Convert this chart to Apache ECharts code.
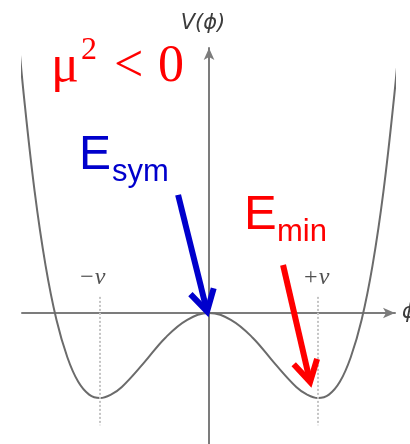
<!DOCTYPE html>
<html>
<head>
<meta charset="utf-8">
<script src="https://cdn.jsdelivr.net/npm/echarts@6/dist/echarts.min.js"></script>
<style>
  html, body { margin: 0; padding: 0; background: #ffffff; }
  #chart { width: 410px; height: 444px; }
</style>
</head>
<body>
<div id="chart"></div>
<script>
// Field values phi (in units of the vacuum value v) and the potential V(phi)
const phiValues = [-1.75, -1.7, -1.6, -1.5, -1.4, -1.3, -1.2, -1.1, -1.0, -0.9, -0.8, -0.6, -0.4, -0.2, 0,
                   0.2, 0.4, 0.6, 0.8, 0.9, 1.0, 1.1, 1.2, 1.3, 1.4, 1.5, 1.6, 1.7, 1.75];
const potentialValues = [3.27, 2.57, 1.43, 0.56, -0.08, -0.52, -0.81, -0.96, -1.0, -0.96, -0.87, -0.59, -0.29, -0.08, 0,
                         -0.08, -0.29, -0.59, -0.87, -0.96, -1.0, -0.96, -0.81, -0.52, -0.08, 0.56, 1.43, 2.57, 3.27];

// Vacuum expectation values marked on the axis
const vacuumPositions = [-1, 1];
const vacuumLabels = ['\u2212v', '+v'];

// Arrow annotations: [tail, tip] in (phi, V) units
const symArrow = [[-0.284, 1.39], [-0.018, 0.02]];
const minArrow = [[0.679, 0.565], [0.927, -0.81]];

const curve = phiValues.map((p, i) => [p, potentialValues[i]]);

const chart = echarts.init(document.getElementById('chart'), null, { renderer: 'canvas' });

const axisGray = '#7c7c7c';

chart.setOption({
  animation: false,
  backgroundColor: '#ffffff',
  grid: { left: 22, right: 15, top: 48, bottom: 0, containLabel: false },
  xAxis: {
    type: 'value',
    min: -1.716, max: 1.706,
    axisLine: { show: true, onZero: true, symbol: ['none', 'arrow'], symbolSize: [8, 12],
                lineStyle: { color: axisGray, width: 2 } },
    axisTick: { show: false }, axisLabel: { show: false }, splitLine: { show: false }
  },
  yAxis: {
    type: 'value',
    min: -1.541, max: 3.118,
    axisLine: { show: true, onZero: true, symbol: ['none', 'arrow'], symbolSize: [8, 12],
                lineStyle: { color: axisGray, width: 2 } },
    axisTick: { show: false }, axisLabel: { show: false }, splitLine: { show: false }
  },
  series: [{
    type: 'line',
    data: curve,
    smooth: 0.4,
    symbol: 'none',
    clip: false,
    lineStyle: { color: '#6b6b6b', width: 2 },
    markLine: {
      silent: true,
      symbol: ['none', 'none'],
      label: { show: false },
      lineStyle: { color: '#c4c4c4', width: 2, type: [2, 2] },
      data: vacuumPositions.map(v => [{ coord: [v, 0.19] }, { coord: [v, -1.32] }])
    },
    z: 3
  }]
});

function px(pt) { return chart.convertToPixel({ gridIndex: 0 }, pt); }

function arrowShapes(pair, color) {
  const a = px(pair[0]);
  const b = px(pair[1]);
  const dx = b[0] - a[0], dy = b[1] - a[1];
  const len = Math.hypot(dx, dy);
  const ux = dx / len, uy = dy / len;
  const wing = 24, ang = 30 * Math.PI / 180;
  const rot = (x, y, t) => [x * Math.cos(t) - y * Math.sin(t), x * Math.sin(t) + y * Math.cos(t)];
  const w1 = rot(-ux, -uy, ang), w2 = rot(-ux, -uy, -ang);
  return [
    { type: 'line', z: 20, shape: { x1: a[0], y1: a[1], x2: b[0] - ux * 3, y2: b[1] - uy * 3 },
      style: { stroke: color, lineWidth: 6 } },
    { type: 'polyline', z: 20,
      shape: { points: [[b[0] + w1[0] * wing, b[1] + w1[1] * wing], b, [b[0] + w2[0] * wing, b[1] + w2[1] * wing]] },
      style: { stroke: color, lineWidth: 6, fill: null, lineJoin: 'miter', miterLimit: 10 } }
  ];
}

const gfx = [];

// tick labels for the vacuum positions
vacuumPositions.forEach((v, i) => {
  const p = px([v, 0.41]);
  gfx.push({
    type: 'text', z: 10, x: p[0] + (i === 0 ? -8 : -2), y: p[1],
    style: { text: vacuumLabels[i], fill: '#505050', font: 'italic 24px "Liberation Serif"',
             align: 'center', verticalAlign: 'middle' }
  });
});

// axis titles
gfx.push({ type: 'text', z: 10, x: 203, y: 24,
  style: { text: 'V(\u03d5)', fill: '#3c3c3c', font: 'italic 21px "DejaVu Sans"', align: 'center', verticalAlign: 'middle' } });
const zeroPt = px([0, 0]);
gfx.push({ type: 'text', z: 10, x: 402, y: zeroPt[1],
  style: { text: '\u03d5', fill: '#3c3c3c', font: 'italic 21px "DejaVu Sans"', align: 'left', verticalAlign: 'middle' } });

// condition text
gfx.push({ type: 'text', z: 10, x: 51, y: 67,
  style: { text: '\u03bc', fill: '#ff0000', font: '52px "Liberation Serif"', align: 'left', verticalAlign: 'middle' } });
gfx.push({ type: 'text', z: 10, x: 81, y: 51,
  style: { text: '2', fill: '#ff0000', font: '32px "Liberation Serif"', align: 'left', verticalAlign: 'middle' } });
gfx.push({ type: 'text', z: 10, x: 114, y: 67,
  style: { text: '<', fill: '#ff0000', font: '52px "Liberation Serif"', align: 'left', verticalAlign: 'middle' } });
gfx.push({ type: 'text', z: 10, x: 158, y: 67,
  style: { text: '0', fill: '#ff0000', font: '52px "Liberation Serif"', align: 'left', verticalAlign: 'middle' } });

// energy labels
gfx.push({ type: 'text', z: 10, x: 79, y: 156,
  style: { text: 'E', fill: '#0000cc', font: '48px "Liberation Sans"', align: 'left', verticalAlign: 'middle' } });
gfx.push({ type: 'text', z: 10, x: 112, y: 172,
  style: { text: 'sym', fill: '#0000cc', font: '31px "Liberation Sans"', align: 'left', verticalAlign: 'middle' } });
gfx.push({ type: 'text', z: 10, x: 244, y: 215,
  style: { text: 'E', fill: '#ff0000', font: '49px "Liberation Sans"', align: 'left', verticalAlign: 'middle' } });
gfx.push({ type: 'text', z: 10, x: 277, y: 232,
  style: { text: 'min', fill: '#ff0000', font: '31px "Liberation Sans"', align: 'left', verticalAlign: 'middle' } });

gfx.push(...arrowShapes(symArrow, '#0000cc'));
gfx.push(...arrowShapes(minArrow, '#ff0000'));

chart.setOption({ graphic: { elements: gfx } });
</script>
</body>
</html>
